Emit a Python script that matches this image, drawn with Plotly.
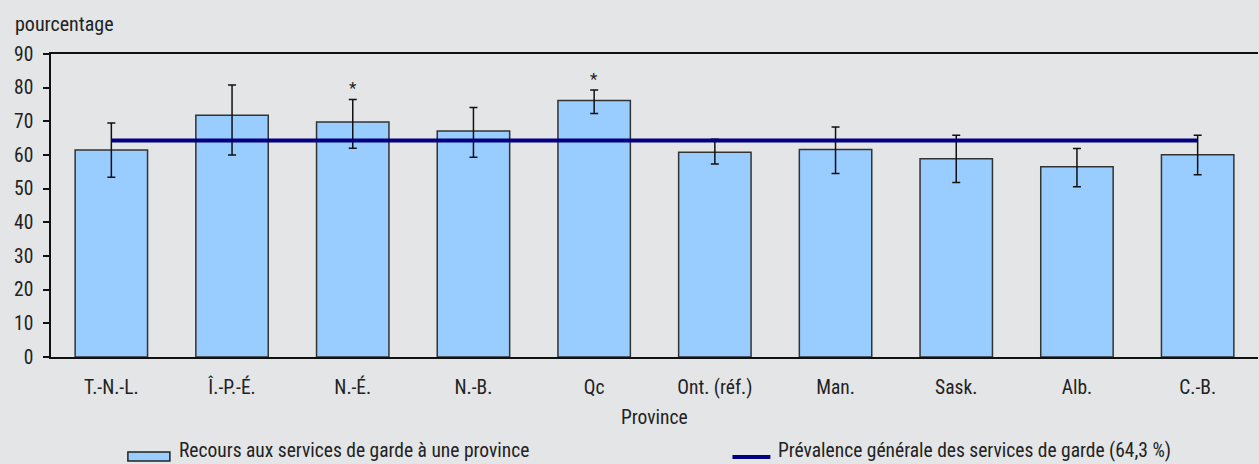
import plotly.graph_objects as go

provinces = ["T.-N.-L.", "Î.-P.-É.", "N.-É.", "N.-B.", "Qc", "Ont. (réf.)",
             "Man.", "Sask.", "Alb.", "C.-B."]
recours = [61.5, 71.8, 69.8, 67.1, 76.2, 60.8, 61.6, 58.9, 56.5, 60.1]
ic_haut = [69.5, 80.8, 76.5, 74.1, 79.3, 64.7, 68.3, 65.9, 61.9, 65.9]
ic_bas = [53.4, 60.0, 62.0, 59.3, 72.3, 57.3, 54.5, 51.8, 50.6, 54.1]
signif = ["", "", "*", "", "*", "", "", "", "", ""]
prevalence = 64.3

FONT = "Roboto Condensed, Liberation Sans Narrow, sans-serif"
FS = 19.5
TXT = "#222222"
BG = "#e4e5e7"

fig = go.Figure()
fig.add_trace(go.Bar(
    x=provinces, y=recours, width=0.6,
    marker=dict(color="#99ccff", line=dict(color="#333333", width=1.5)),
    error_y=dict(type="data", symmetric=False,
                 array=[h - v for h, v in zip(ic_haut, recours)],
                 arrayminus=[v - b for v, b in zip(recours, ic_bas)],
                 color="#111111", thickness=1.5, width=4),
    showlegend=False,
))
fig.add_trace(go.Scatter(
    x=[provinces[0], provinces[-1]], y=[prevalence, prevalence],
    mode="lines", line=dict(color="#000080", width=4), showlegend=False,
))

for p, h, s in zip(provinces, ic_haut, signif):
    if s:
        fig.add_annotation(x=p, y=h, text=s, showarrow=False, yanchor="bottom",
                           font=dict(family=FONT, size=17, color=TXT), yshift=-1)

# axis labels
fig.add_annotation(x=-0.0315, y=1.10, xref="paper", yref="paper", text="pourcentage",
                   showarrow=False, xanchor="left", yanchor="middle",
                   font=dict(family=FONT, size=20, color=TXT))
fig.add_annotation(x=0.5, y=-0.201, xref="paper", yref="paper", text="Province",
                   showarrow=False, xanchor="center", yanchor="middle",
                   font=dict(family=FONT, size=FS, color=TXT))

# custom legend
fig.add_shape(type="rect", xref="paper", yref="paper", x0=0.0637, x1=0.0985,
              y0=-0.343, y1=-0.3135, fillcolor="#99ccff",
              line=dict(color="#222222", width=1.5))
fig.add_annotation(x=0.1043, y=-0.307, xref="paper", yref="paper",
                   text="Recours aux services de garde à une province",
                   showarrow=False, xanchor="left", yanchor="middle",
                   font=dict(family=FONT, size=FS, color=TXT))
fig.add_shape(type="line", xref="paper", yref="paper", x0=0.5646, x1=0.596,
              y0=-0.330, y1=-0.330, line=dict(color="#000080", width=4))
fig.add_annotation(x=0.601, y=-0.307, xref="paper", yref="paper",
                   text="Prévalence générale des services de garde (64,3 %)",
                   showarrow=False, xanchor="left", yanchor="middle",
                   font=dict(family=FONT, size=FS, color=TXT))

fig.update_layout(
    width=1259, height=464,
    margin=dict(l=51, r=1, t=54, b=107),
    paper_bgcolor=BG, plot_bgcolor=BG,
    font=dict(family=FONT, size=FS, color=TXT),
    bargap=0.4,
    xaxis=dict(showline=True, linecolor="#111111", linewidth=1.5, mirror=True,
               showgrid=False, ticks="", ticklabelstandoff=12,
               tickfont=dict(family=FONT, size=FS, color=TXT)),
    yaxis=dict(range=[0, 90], dtick=10, showline=True, linecolor="#111111",
               linewidth=1.5, showgrid=False, zeroline=False, ticks="outside",
               ticklen=6, tickcolor="#111111", tickwidth=1.5, ticklabelstandoff=6,
               tickfont=dict(family=FONT, size=FS, color=TXT)),
)

fig.write_html("out.html", config={"displayModeBar": False},
               post_script="document.body.style.margin='0';")
